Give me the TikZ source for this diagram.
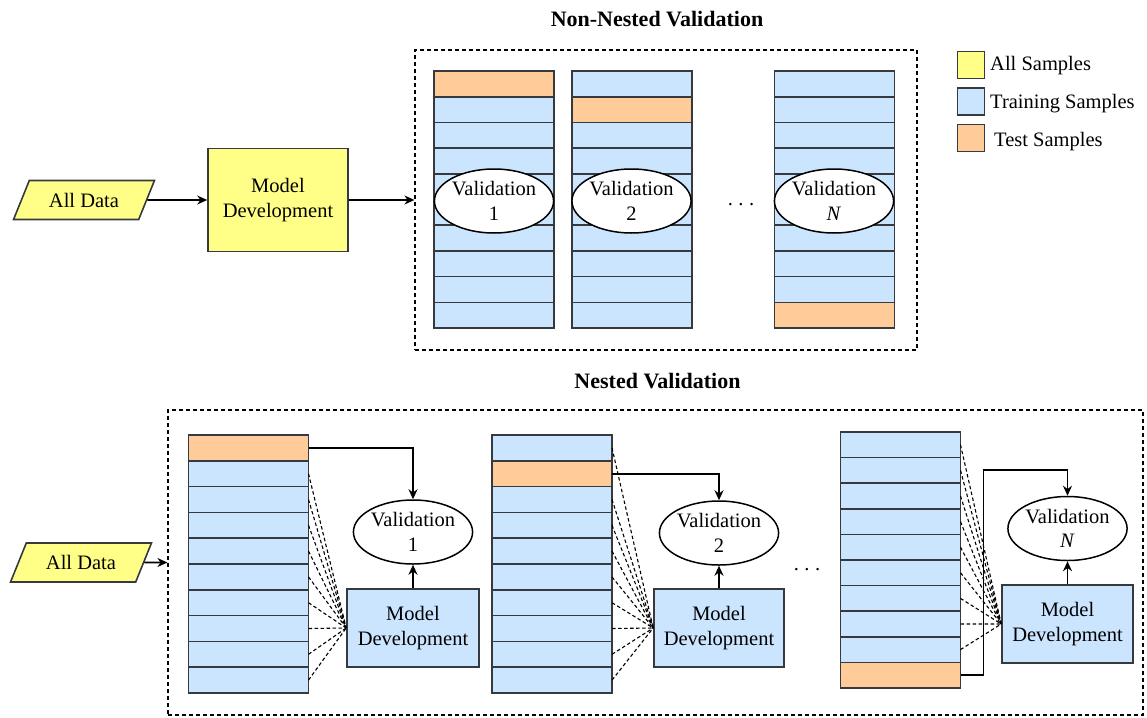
\documentclass[tikz,border=0pt]{standalone}
\usepackage{fontspec}
\setmainfont{Liberation Serif}
\newfontfamily\labelfont{Liberation Serif}
\usetikzlibrary{shapes.geometric,arrows.meta,calc}
\definecolor{ylw}{HTML}{FFFF88}
\definecolor{trn}{HTML}{CCE5FF}
\definecolor{tst}{HTML}{FFCC99}
\definecolor{edge}{HTML}{36393D}

\tikzset{
  base/.style={font=\labelfont\fontsize{20.5}{24.5}\selectfont, align=center, inner sep=0pt},
  cell/.style={draw=edge, line width=1.6pt, minimum width=120pt, inner sep=0pt, outer sep=0pt},
  datain/.style={base, trapezium, trapezium left angle=55, trapezium right angle=125,
    trapezium stretches=true, minimum width=142pt, minimum height=39pt,
    draw=edge, fill=ylw, line width=1.6pt},
  devbox/.style={base, rectangle, draw=edge, line width=1.6pt},
  valnode/.style={base, ellipse, draw=black, fill=white, line width=1.5pt,
    minimum width=116pt, minimum height=64pt},
  link/.style={-{Stealth[length=10pt,width=9pt]}, line width=1.6pt, black},
  feed/.style={dash pattern=on 3.5pt off 2.5pt, line width=1.1pt, black},
  frame/.style={draw=black, dash pattern=on 4pt off 3pt, line width=1.2pt, inner sep=0pt},
  heading/.style={font=\labelfont\fontsize{22}{26}\selectfont\bfseries, inner sep=0pt},
  swatch/.style={draw=edge, line width=1.6pt, minimum size=27pt, inner sep=0pt},
  legtext/.style={base, anchor=west}
}

\begin{document}
\begin{tikzpicture}[x=1pt,y=-1pt]
\useasboundingbox (0,0) rectangle (1147,717);

% ---------- non-nested part ----------
\node[heading] (nnTitle) at (657,19) {Non-Nested Validation};
\node[frame, minimum width=502pt, minimum height=300pt] (nn) at (666,200) {};
\node[datain] (dataTop) at (84,200) {All Data};
\node[devbox, fill=ylw, minimum width=140pt, minimum height=103pt] (m0) at (278,200) {Model\\Development};
\draw[link] (dataTop.east) -- (m0.west);
\draw[link] (m0.east) -- (nn.west);

% ---------- nested part ----------
\node[heading] (nTitle) at (657.5,381) {Nested Validation};
\node[frame, minimum width=975pt, minimum height=305pt] (ns) at (655.5,562.5) {};
\node[datain] (dataBot) at (81,562.5) {All Data};
\draw[link] (dataBot.east) -- (ns.west);

% ---------- sample stacks (name / centre x / top y / row height / test row) ----------
\foreach \nm/\cx/\tp/\h/\t in {sA/494/71/25.7/1, sB/632/71/25.7/2, sC/834.5/71/25.7/10,
                                sD/248.5/435/25.8/1, sE/552/435/25.8/2, sF/900.5/432/25.6/10} {
  \foreach \i in {1,...,10} {
    \ifnum\i=\t \def\cellfill{tst}\else\def\cellfill{trn}\fi
    \node[cell, fill=\cellfill, minimum height=\h pt] (\nm\i) at (\cx,{\tp+(\i-0.5)*\h}) {};
  }
}

% ---------- validations of the non-nested scheme ----------
\node[valnode] (va) at (494,201) {Validation\\1};
\node[valnode] (vb) at (631.5,201) {Validation\\2};
\node[valnode] (vc) at (834,201) {Validation\\\textit{N}};
\node[base] (gapTop) at (741,205) {.\hspace{5.5pt}.\hspace{5.5pt}.};

% ---------- nested scheme: inner development and validation ----------
\node[devbox, fill=trn, minimum width=132pt, minimum height=78pt] (m1) at (413,628) {Model\\Development};
\node[valnode] (v1) at (413,532) {Validation\\1};
\node[devbox, fill=trn, minimum width=130pt, minimum height=78pt] (m2) at (719,628) {Model\\Development};
\node[valnode] (v2) at (719,533) {Validation\\2};
\node[devbox, fill=trn, minimum width=131pt, minimum height=78pt] (m3) at (1067.5,624) {Model\\Development};
\node[valnode] (v3) at (1067.5,528.5) {Validation\\\textit{N}};
\node[base] (gapBot) at (807,570) {.\hspace{5.5pt}.\hspace{5.5pt}.};

% training rows feeding each development box
\foreach \i in {2,...,10} \draw[feed] (sD\i.east) -- (m1.west);
\foreach \i in {1,3,4,...,10} \draw[feed] (sE\i.east) -- (m2.west);
\foreach \i in {1,...,9} \draw[feed] (sF\i.east) -- (m3.west);

% test rows and models into validation
\draw[link] (sD1.east) -| (v1.north);
\draw[link] (sE2.east) -| (v2.north);
\coordinate (turn3) at ($(v3.north)+(0,-26)$);
\draw[link] (sF10.east) -- ++(23,0) |- (turn3) -- (v3.north);
\draw[link] (m1.north) -- (v1.south);
\draw[link] (m2.north) -- (v2.south);
\draw[link] (m3.north) -- (v3.south);

% ---------- legend ----------
\node[swatch, fill=ylw] (kA) at (971,65) {};
\node[swatch, fill=trn] (kB) at (971,101.5) {};
\node[swatch, fill=tst] (kC) at (971,138) {};
\node[legtext] (tA) at (990,66) {All Samples};
\node[legtext] (tB) at (990,104) {Training Samples};
\node[legtext] (tC) at (994,142) {Test Samples};
\end{tikzpicture}
\end{document}
